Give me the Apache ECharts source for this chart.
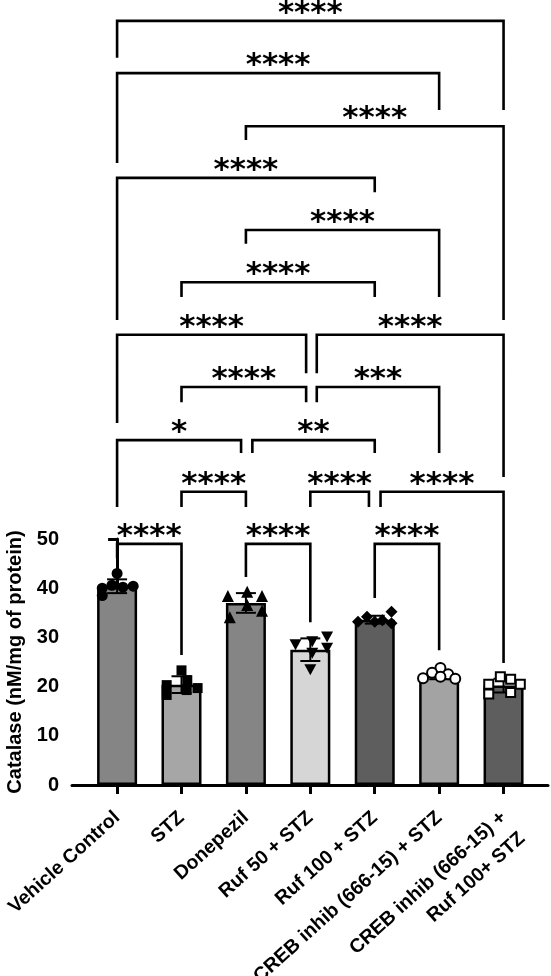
<!DOCTYPE html>
<html>
<head>
<meta charset="utf-8">
<script src="https://cdn.jsdelivr.net/npm/echarts@6/dist/echarts.min.js"></script>
<style>
html,body{margin:0;padding:0;background:#fff;}
#chart{width:551px;height:976px;}
</style>
</head>
<body>
<div id="chart"></div>
<script>
// ---------- data ----------
const categories = ['Vehicle Control', 'STZ', 'Donepezil', 'Ruf 50 + STZ', 'Ruf 100 + STZ',
  'CREB inhib (666-15) + STZ', 'CREB inhib (666-15) +\nRuf 100+ STZ'];
const means = [40.4, 20.4, 37.0, 27.5, 33.6, 22.3, 20.2];
const sds = [1.4, 1.7, 2.0, 2.3, 0.8, 0.8, 1.4];
const yTicks = [0, 10, 20, 30, 40, 50];

// individual animals per group
const ptsVehicle = [43.0, 40.6, 40.2, 40.4, 40.0, 38.5];
const ptsSTZ = [23.3, 21.3, 20.3, 19.7, 18.3, 19.3];
const ptsDonepezil = [38.4, 39.3, 38.4, 36.6, 34.1, 35.4];
const ptsRuf50 = [28.5, 29.1, 30.1, 27.8, 26.8, 23.4];
const ptsRuf100 = [33.2, 34.2, 33.2, 33.5, 35.2, 32.9];
const ptsCREB = [23.8, 22.8, 22.5, 21.7, 22.0, 21.6];
const ptsCREBRuf = [22.0, 21.5, 20.5, 20.5, 18.5, 18.8];
// horizontal spread of the dots (in category units)
const jitVehicle = [0, -0.08, 0.09, 0.25, -0.23, -0.23];
const jitSTZ = [0, 0.09, -0.23, 0.25, -0.23, 0.08];
const jitDonepezil = [-0.28, 0.02, 0.25, 0.02, -0.25, 0.25];
const jitRuf50 = [-0.23, 0.03, 0.26, 0.26, 0.03, 0];
const jitRuf100 = [-0.26, -0.12, 0, 0.12, 0.26, 0.26];
const jitCREB = [0.02, -0.11, 0.14, -0.25, 0.02, 0.25];
const jitCREBRuf = [-0.05, 0.11, -0.23, 0.26, -0.23, 0.11];

// significance brackets (x in category index, heights in y-axis units)
const bracketFrom = [0, 0, 2, 0, 2, 1, 0, 3.10, 1, 3.10, 0, 2.10, 1, 3, 4.09, 0, 2, 4];
const bracketTo = [6, 5, 6, 4, 5, 4, 2.935, 6, 2.935, 5, 1.925, 4, 2, 3.91, 6, 1, 3, 5];
const bracketLevel = [155.3, 144.7, 133.9, 123.4, 112.8, 102.2, 91.5, 91.5, 80.9, 80.9, 70.1, 70.1, 59.6, 59.6, 59.6, 49.0, 49.0, 49.0];
const legFromEnd = [147.8, 126.4, 131.1, 94.5, 110.0, 99.2, 73.6, 83.7, 77.8, 77.8, 56.5, 67.5, 56.5, 56.5, 56.5, 46.1, 42.3, 38.0];
const legToEnd = [137.2, 137.2, 94.5, 120.5, 99.2, 99.2, 83.7, 62.6, 77.8, 67.5, 67.5, 67.5, 56.5, 56.5, 24.8, 26.4, 33.1, 27.4];
const bracketLabels = ['****', '****', '****', '****', '****', '****', '****', '****', '****', '***', '*', '**', '****', '****', '****', '****', '****', '****'];

// ---------- styles ----------
const barColors = ['#858585', '#a6a6a6', '#858585', '#d6d6d6', '#5e5e5e', '#a3a3a3', '#5e5e5e'];
const FONT = '"Liberation Sans", Arial, sans-serif';

function pts(idx, vals, jit) {
  return vals.map((v, k) => [idx + jit[k], v]);
}

const chart = echarts.init(document.getElementById('chart'), null, {renderer: 'canvas'});

const catIdx = categories.map((c, i) => i);
// the long 6th label sits on its own (label-only) axis so it is never hidden by overlap checks
const catIdxMain = catIdx.filter(i => i !== 5);
const catIdxAlt = [5];

function catLabel(v) {
  const t = categories[Math.round(v)];
  return t.indexOf('\n') >= 0 ? ' \n' + t : t;
}

const labelStyle = {
  rotate: 42,
  margin: 30,
  hideOverlap: false,
  showMinLabel: true,
  showMaxLabel: true,
  fontFamily: FONT,
  fontWeight: 'bold',
  fontSize: 19.5,
  color: '#000',
  lineHeight: 28,
  formatter: catLabel
};

const option = {
  animation: false,
  backgroundColor: '#fff',
  grid: {left: 72, right: 3, top: 539, bottom: 191, containLabel: false, outerBoundsMode: 'none'},
  xAxis: [{
    type: 'value',
    position: 'bottom',
    min: -0.70,
    max: 6.69,
    splitLine: {show: false},
    axisLine: {show: true, onZero: false, lineStyle: {color: '#000', width: 3}},
    axisTick: {show: true, customValues: catIdx, length: 9, inside: false, lineStyle: {color: '#000', width: 3}},
    axisLabel: Object.assign({customValues: catIdxMain}, labelStyle)
  }, {
    type: 'value',
    position: 'bottom',
    offset: 0,
    min: -0.70,
    max: 6.69,
    splitLine: {show: false},
    axisLine: {show: false, onZero: false},
    axisTick: {show: false},
    axisLabel: Object.assign({customValues: catIdxAlt}, labelStyle)
  }],
  yAxis: {
    type: 'value',
    min: 0,
    max: 50,
    interval: 10,
    name: 'Catalase (nM/mg of protein)',
    nameLocation: 'middle',
    nameGap: 47,
    nameTextStyle: {fontFamily: FONT, fontWeight: 'bold', fontSize: 20, color: '#000'},
    splitLine: {show: false},
    axisLine: {show: true, lineStyle: {color: '#000', width: 3}},
    axisTick: {show: true, length: 9, lineStyle: {color: '#000', width: 3}},
    axisLabel: {
      margin: 13,
      fontFamily: FONT,
      fontWeight: 'bold',
      fontSize: 20,
      color: '#000',
      customValues: yTicks
    }
  },
  series: [
    {
      type: 'bar',
      barWidth: 40,
      data: means.map((m, i) => ({value: [i, m], itemStyle: {color: barColors[i]}})),
      itemStyle: {borderColor: '#000', borderWidth: 2.5},
      z: 2
    },
    {
      type: 'custom',
      z: 3,
      data: means.map((m, i) => [i, m, sds[i]]),
      renderItem: function (params, api) {
        const x = api.value(0), m = api.value(1), s = api.value(2);
        const top = api.coord([x, m + s]);
        const bot = api.coord([x, m - s]);
        const hw = 10;
        const st = {stroke: '#000', lineWidth: 2};
        return {
          type: 'group',
          children: [
            {type: 'line', shape: {x1: top[0], y1: top[1], x2: bot[0], y2: bot[1]}, style: st},
            {type: 'line', shape: {x1: top[0] - hw, y1: top[1], x2: top[0] + hw, y2: top[1]}, style: st},
            {type: 'line', shape: {x1: bot[0] - hw, y1: bot[1], x2: bot[0] + hw, y2: bot[1]}, style: st}
          ]
        };
      }
    },
    {type: 'scatter', z: 4, symbol: 'circle', symbolSize: 11, data: pts(0, ptsVehicle, jitVehicle), itemStyle: {color: '#000', opacity: 1}},
    {type: 'scatter', z: 4, symbol: 'rect', symbolSize: 10, data: pts(1, ptsSTZ, jitSTZ), itemStyle: {color: '#000', opacity: 1}},
    {type: 'scatter', z: 4, symbol: 'triangle', symbolSize: 12, data: pts(2, ptsDonepezil, jitDonepezil), itemStyle: {color: '#000', opacity: 1}},
    {type: 'scatter', z: 4, symbol: 'path://M0,0 L10,0 L5,9 Z', symbolSize: [12, 11], data: pts(3, ptsRuf50, jitRuf50), itemStyle: {color: '#000', opacity: 1}},
    {type: 'scatter', z: 4, symbol: 'diamond', symbolSize: 12, data: pts(4, ptsRuf100, jitRuf100), itemStyle: {color: '#000', opacity: 1}},
    {type: 'scatter', z: 4, symbol: 'circle', symbolSize: 10, data: pts(5, ptsCREB, jitCREB), itemStyle: {color: '#fff', borderColor: '#000', borderWidth: 2, opacity: 1}},
    {type: 'scatter', z: 4, symbol: 'rect', symbolSize: 9, data: pts(6, ptsCREBRuf, jitCREBRuf), itemStyle: {color: '#fff', borderColor: '#000', borderWidth: 2, opacity: 1}},
    {
      type: 'custom',
      z: 5,
      clip: false,
      data: bracketFrom.map((f, i) => [f, bracketTo[i], bracketLevel[i], legFromEnd[i], legToEnd[i]]),
      renderItem: function (params, api) {
        const f = api.value(0), t = api.value(1), lv = api.value(2), lf = api.value(3), lt = api.value(4);
        const p1 = api.coord([f, lf]);
        const p2 = api.coord([f, lv]);
        const p3 = api.coord([t, lv]);
        const p4 = api.coord([t, lt]);
        return {
          type: 'group',
          children: [
            {type: 'polyline', shape: {points: [p1, p2, p3, p4]}, style: {stroke: '#000', lineWidth: 2.6, fill: null}},
            {type: 'text', style: {
              text: bracketLabels[params.dataIndex],
              x: (p2[0] + p3[0]) / 2,
              y: p2[1] - 7,
              align: 'center',
              verticalAlign: 'middle',
              fontFamily: '"DejaVu Sans", sans-serif',
              fontWeight: 'bold',
              fontSize: 31,
              fill: '#000'
            }}
          ]
        };
      }
    }
  ]
};
chart.setOption(option);
</script>
</body>
</html>
